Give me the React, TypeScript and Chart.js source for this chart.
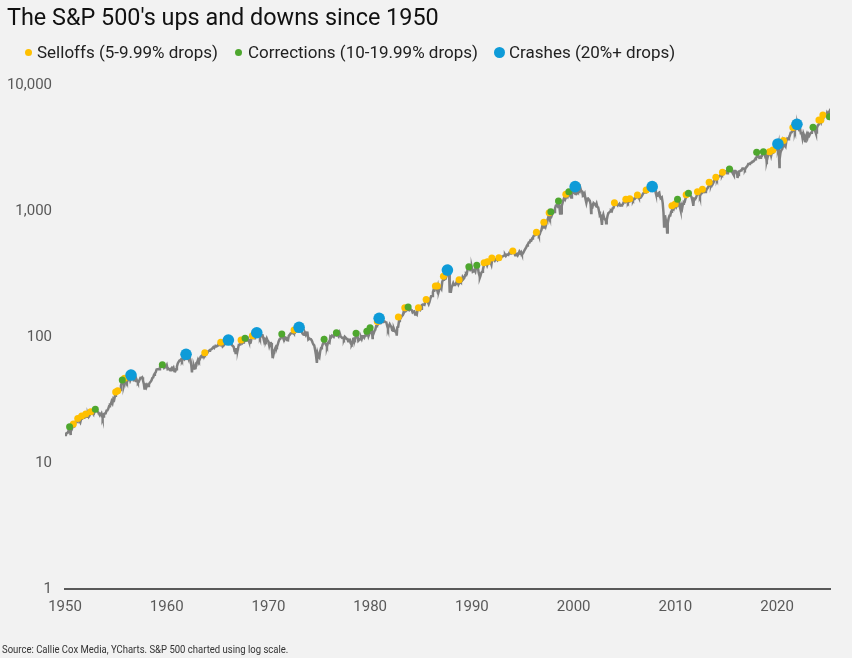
import React, { useEffect, useRef } from "react";
import { Chart, registerables } from "chart.js";

Chart.register(...registerables);

// ---------- DATA ----------
const START_YEAR = 1950;

// S&P 500 month-end levels, Jan 1950 onward (log scale)
const monthlyCloses: number[] = [
  // 1950
  17.05, 17.22, 17.29, 17.96, 18.78, 17.69, 17.84, 18.42, 19.45, 19.53, 19.51, 20.41,
  // 1951
  21.66, 21.8, 21.4, 22.43, 21.52, 20.96, 22.4, 23.28, 23.26, 22.94, 22.88, 23.77,
  // 1952
  24.14, 23.26, 24.37, 23.32, 23.86, 24.96, 25.4, 25.03, 24.54, 24.52, 25.66, 26.57,
  // 1953
  26.38, 25.9, 25.29, 24.62, 24.54, 24.14, 24.75, 23.32, 23.35, 24.54, 24.76, 24.81,
  // 1954
  26.08, 26.15, 26.94, 28.26, 29.19, 29.21, 30.88, 29.83, 32.31, 31.68, 34.24, 35.98,
  // 1955
  36.63, 36.76, 36.58, 37.96, 37.91, 41.03, 43.52, 43.18, 43.67, 42.34, 45.51, 45.48,
  // 1956
  43.82, 45.34, 48.48, 48.38, 45.2, 46.97, 49.39, 47.51, 45.35, 45.58, 45.08, 46.67,
  // 1957
  44.72, 43.26, 44.11, 45.74, 47.43, 47.37, 47.91, 45.22, 42.42, 41.06, 41.72, 39.99,
  // 1958
  41.7, 40.84, 42.1, 43.44, 44.09, 45.24, 47.19, 47.75, 50.06, 51.33, 52.48, 55.21,
  // 1959
  55.42, 55.41, 55.44, 57.59, 58.68, 58.47, 60.51, 59.6, 56.88, 57.52, 58.28, 59.89,
  // 1960
  55.61, 56.12, 55.34, 54.37, 55.83, 56.92, 55.51, 56.96, 53.52, 53.39, 55.54, 58.11,
  // 1961
  61.78, 63.44, 65.06, 65.31, 66.56, 64.64, 66.76, 68.07, 66.73, 68.62, 71.32, 71.55,
  // 1962
  68.84, 69.96, 69.55, 65.24, 59.63, 54.75, 58.23, 59.12, 56.27, 56.52, 62.26, 63.1,
  // 1963
  66.2, 64.29, 66.57, 69.8, 70.8, 69.37, 69.13, 72.5, 71.7, 74.01, 73.23, 75.02,
  // 1964
  77.04, 77.8, 78.98, 79.46, 80.37, 81.69, 83.18, 81.83, 84.18, 84.86, 84.42, 84.75,
  // 1965
  87.56, 87.43, 86.16, 89.11, 88.42, 84.12, 85.25, 87.17, 89.96, 92.42, 91.61, 92.43,
  // 1966
  92.88, 91.22, 89.23, 91.06, 86.13, 84.74, 83.6, 77.1, 76.56, 80.2, 80.45, 80.33,
  // 1967
  86.61, 86.78, 90.2, 94.01, 89.08, 90.64, 94.75, 93.64, 96.71, 93.9, 94.0, 96.47,
  // 1968
  92.24, 89.36, 90.2, 97.59, 98.68, 99.58, 97.74, 98.86, 102.67, 103.41, 108.37, 103.86,
  // 1969
  103.01, 98.13, 101.51, 103.69, 103.46, 97.71, 91.83, 95.51, 93.12, 97.24, 93.81, 92.06,
  // 1970
  85.02, 89.5, 89.63, 81.52, 76.55, 72.72, 78.05, 81.52, 84.21, 83.25, 87.2, 92.15,
  // 1971
  95.88, 96.75, 100.31, 103.95, 99.63, 99.7, 95.58, 99.03, 98.34, 94.23, 93.99, 102.09,
  // 1972
  103.94, 106.57, 107.2, 107.67, 109.53, 107.14, 107.39, 111.09, 110.55, 111.58, 116.67, 118.05,
  // 1973
  116.03, 111.68, 111.52, 106.97, 104.95, 104.26, 108.22, 104.25, 108.43, 108.29, 95.96, 97.55,
  // 1974
  96.57, 96.22, 93.98, 90.31, 87.28, 86.0, 79.31, 72.15, 63.54, 73.9, 69.97, 68.56,
  // 1975
  76.98, 81.59, 83.36, 87.3, 91.15, 95.19, 88.75, 86.88, 83.87, 89.04, 91.24, 90.19,
  // 1976
  100.86, 99.71, 102.77, 101.64, 100.18, 104.28, 103.44, 102.91, 105.24, 102.9, 102.1, 107.46,
  // 1977
  102.03, 99.82, 98.42, 98.44, 96.12, 100.48, 98.85, 96.77, 96.53, 92.34, 94.83, 95.1,
  // 1978
  89.25, 87.04, 89.21, 96.83, 97.24, 95.53, 100.68, 103.29, 102.54, 93.15, 94.7, 96.11,
  // 1979
  99.93, 96.28, 101.59, 101.76, 99.08, 102.91, 103.81, 109.32, 109.32, 101.82, 106.16, 107.94,
  // 1980
  114.16, 113.66, 102.09, 106.29, 111.24, 114.24, 121.67, 122.38, 125.46, 127.47, 140.52, 135.76,
  // 1981
  129.55, 131.27, 136.0, 132.81, 132.59, 131.21, 130.92, 122.79, 116.18, 121.89, 126.35, 122.55,
  // 1982
  120.4, 113.11, 111.96, 116.44, 111.88, 109.61, 107.09, 119.51, 120.42, 133.71, 138.54, 140.64,
  // 1983
  145.3, 148.06, 152.96, 164.42, 162.39, 168.11, 162.56, 164.4, 166.07, 163.55, 166.4, 164.93,
  // 1984
  163.41, 157.06, 159.18, 160.05, 150.55, 153.18, 150.66, 166.68, 166.1, 166.09, 163.58, 167.24,
  // 1985
  179.63, 181.18, 180.66, 179.83, 189.55, 191.85, 190.92, 188.63, 182.08, 189.82, 202.17, 211.28,
  // 1986
  211.78, 226.92, 238.9, 235.52, 247.35, 250.84, 236.12, 252.93, 231.32, 243.98, 249.22, 242.17,
  // 1987
  274.08, 284.2, 291.7, 288.36, 290.1, 304.0, 318.66, 329.8, 321.83, 251.79, 230.3, 247.08,
  // 1988
  257.07, 267.82, 258.89, 261.33, 262.16, 273.5, 272.02, 261.52, 271.91, 278.97, 273.7, 277.72,
  // 1989
  297.47, 288.86, 294.87, 309.64, 320.52, 317.98, 346.08, 351.45, 349.15, 340.36, 345.99, 353.4,
  // 1990
  329.08, 331.89, 339.94, 330.8, 361.23, 358.02, 356.15, 322.56, 306.05, 304.0, 322.22, 330.22,
  // 1991
  343.93, 367.07, 375.22, 375.35, 389.83, 371.16, 387.81, 395.43, 387.86, 392.46, 375.22, 417.09,
  // 1992
  408.79, 412.7, 403.69, 414.95, 415.35, 408.14, 424.21, 414.03, 417.8, 418.68, 431.35, 435.71,
  // 1993
  438.78, 443.38, 451.67, 440.19, 450.19, 450.53, 448.13, 463.56, 458.93, 467.83, 461.79, 466.45,
  // 1994
  481.61, 467.14, 445.77, 450.91, 456.5, 444.27, 458.26, 475.49, 462.69, 472.35, 453.69, 459.27,
  // 1995
  470.42, 487.39, 500.71, 514.71, 533.4, 544.75, 562.06, 561.88, 584.41, 581.5, 605.37, 615.93,
  // 1996
  636.02, 640.43, 645.5, 654.17, 669.12, 670.63, 639.95, 651.99, 687.33, 705.27, 757.02, 740.74,
  // 1997
  786.16, 790.82, 757.12, 801.34, 848.28, 885.14, 954.29, 899.47, 947.28, 914.62, 955.4, 970.43,
  // 1998
  980.28, 1049.34, 1101.75, 1111.75, 1090.82, 1133.84, 1120.67, 957.28, 1017.01, 1098.67, 1163.63, 1229.23,
  // 1999
  1279.64, 1238.33, 1286.37, 1335.18, 1301.84, 1372.71, 1328.72, 1320.41, 1282.71, 1362.93, 1388.91, 1469.25,
  // 2000
  1394.46, 1366.42, 1498.58, 1452.43, 1420.6, 1454.6, 1430.83, 1517.68, 1436.51, 1429.4, 1314.95, 1320.28,
  // 2001
  1366.01, 1239.94, 1160.33, 1249.46, 1255.82, 1224.42, 1211.23, 1133.58, 1040.94, 1059.78, 1139.45, 1148.08,
  // 2002
  1130.2, 1106.73, 1147.39, 1076.92, 1067.14, 989.82, 911.62, 916.07, 815.28, 885.76, 936.31, 879.82,
  // 2003
  855.7, 841.15, 848.18, 916.92, 963.59, 974.5, 990.31, 1008.01, 995.97, 1050.71, 1058.2, 1111.92,
  // 2004
  1131.13, 1144.94, 1126.21, 1107.3, 1120.68, 1140.84, 1101.72, 1104.24, 1114.58, 1130.2, 1173.82, 1211.92,
  // 2005
  1181.27, 1203.6, 1180.59, 1156.85, 1191.5, 1191.33, 1234.18, 1220.33, 1228.81, 1207.01, 1249.48, 1248.29,
  // 2006
  1280.08, 1280.66, 1294.83, 1310.61, 1270.09, 1270.2, 1276.66, 1303.82, 1335.85, 1377.94, 1400.63, 1418.3,
  // 2007
  1438.24, 1406.82, 1420.86, 1482.37, 1530.62, 1503.35, 1455.27, 1473.99, 1526.75, 1549.38, 1481.14, 1468.36,
  // 2008
  1378.55, 1330.63, 1322.7, 1385.59, 1400.38, 1280.0, 1267.38, 1282.83, 1166.36, 968.75, 896.24, 903.25,
  // 2009
  825.88, 735.09, 797.87, 872.81, 919.14, 919.32, 987.48, 1020.62, 1057.08, 1036.19, 1095.63, 1115.1,
  // 2010
  1073.87, 1104.49, 1169.43, 1186.69, 1089.41, 1030.71, 1101.6, 1049.33, 1141.2, 1183.26, 1180.55, 1257.64,
  // 2011
  1286.12, 1327.22, 1325.83, 1363.61, 1345.2, 1320.64, 1292.28, 1218.89, 1131.42, 1253.3, 1246.96, 1257.6,
  // 2012
  1312.41, 1365.68, 1408.47, 1397.91, 1310.33, 1362.16, 1379.32, 1406.58, 1440.67, 1412.16, 1416.18, 1426.19,
  // 2013
  1498.11, 1514.68, 1569.19, 1597.57, 1630.74, 1606.28, 1685.73, 1632.97, 1681.55, 1756.54, 1805.81, 1848.36,
  // 2014
  1782.59, 1859.45, 1872.34, 1883.95, 1923.57, 1960.23, 1930.67, 2003.37, 1972.29, 2018.05, 2067.56, 2058.9,
  // 2015
  1994.99, 2104.5, 2067.89, 2085.51, 2107.39, 2063.11, 2103.84, 1972.18, 1920.03, 2079.36, 2080.41, 2043.94,
  // 2016
  1940.24, 1932.23, 2059.74, 2065.3, 2096.95, 2098.86, 2173.6, 2170.95, 2168.27, 2126.15, 2198.81, 2238.83,
  // 2017
  2278.87, 2363.64, 2362.72, 2384.2, 2411.8, 2423.41, 2470.3, 2471.65, 2519.36, 2575.26, 2647.58, 2673.61,
  // 2018
  2823.81, 2713.83, 2640.87, 2648.05, 2705.27, 2718.37, 2816.29, 2901.52, 2913.98, 2711.74, 2760.17, 2506.85,
  // 2019
  2704.1, 2784.49, 2834.4, 2945.83, 2752.06, 2941.76, 2980.38, 2926.46, 2976.74, 3037.56, 3140.98, 3230.78,
  // 2020
  3225.52, 2954.22, 2584.59, 2912.43, 3044.31, 3100.29, 3271.12, 3500.31, 3363.0, 3269.96, 3621.63, 3756.07,
  // 2021
  3714.24, 3811.15, 3972.89, 4181.17, 4204.11, 4297.5, 4395.26, 4522.68, 4307.54, 4605.38, 4567.0, 4766.18,
  // 2022
  4515.55, 4373.94, 4530.41, 4131.93, 4132.15, 3785.38, 4130.29, 3955.0, 3585.62, 3871.98, 4080.11, 3839.5,
  // 2023
  4076.6, 3970.15, 4109.31, 4169.48, 4179.83, 4450.38, 4588.96, 4507.66, 4288.05, 4193.8, 4567.8, 4769.83,
  // 2024
  4845.65, 5096.27, 5254.35, 5035.69, 5277.51, 5460.48, 5522.3, 5648.4, 5762.48, 5705.45, 6032.38, 5881.63,
  // 2025
  6040.53, 5954.5,
];

// Intra-month highs and lows that show as spikes in the line: [year, level]
const intramonthLevels: [number, number][] = [
  [1950.0, 16.66], [1950.54, 16.68], [1953.7, 22.71], [1955.78, 40.8],
  [1957.81, 38.98], [1962.48, 52.32], [1966.78, 73.2], [1970.4, 69.29],
  [1974.76, 62.28], [1978.18, 86.9], [1980.23, 98.22], [1982.61, 102.42],
  [1987.65, 336.77], [1987.8, 224.84], [1987.92, 223.92], [1990.78, 295.46],
  [1998.77, 959.44], [2000.23, 1527.46], [2001.72, 965.8], [2002.78, 776.76],
  [2003.19, 800.73], [2007.78, 1565.15], [2008.89, 752.44], [2009.19, 676.53],
  [2010.51, 1022.58], [2011.76, 1099.23], [2016.11, 1829.08], [2018.98, 2351.1],
  [2020.14, 3386.15], [2020.23, 2237.4], [2022.01, 4796.56], [2022.78, 3577.03],
  [2023.82, 4117.37], [2025.13, 6144.15],
];

// Drawdown markers: [year, level]
const selloffs: [number, number][] = [
  [1950.82, 20.4], [1951.25, 22.6], [1951.64, 23.6], [1952.04, 24.5], [1952.53, 25.5],
  [1954.98, 36.6], [1955.18, 37.5], [1955.85, 47.0], [1963.74, 75.0], [1965.31, 90.8],
  [1967.31, 94.6], [1968.42, 102.4], [1972.52, 113.7], [1980.7, 133], [1982.77, 144],
  [1983.4, 171], [1984.74, 171], [1985.5, 198], [1986.41, 254], [1986.61, 254],
  [1987.2, 303], [1988.74, 285], [1991.2, 389], [1991.52, 396], [1991.96, 424],
  [1992.65, 426], [1994.02, 482], [1996.34, 677], [1997.07, 813], [1997.59, 970],
  [1999.23, 1358], [2004.01, 1164], [2005.13, 1239], [2005.52, 1253], [2006.27, 1340],
  [2007.13, 1469], [2009.66, 1102], [2009.98, 1137], [2011.06, 1347], [2012.17, 1422],
  [2012.66, 1486], [2013.32, 1690], [2013.98, 1850], [2014.63, 2028], [2019.25, 2955],
  [2019.58, 3050], [2020.63, 3630], [2021.55, 4600], [2024.11, 5275], [2024.3, 5275],
  [2024.5, 5781],
];

const corrections: [number, number][] = [
  [1950.45, 19.4], [1952.98, 26.7], [1955.63, 45.6], [1959.57, 60.3], [1967.7, 97.7],
  [1971.31, 105.6], [1975.47, 95.9], [1976.68, 108.1], [1978.61, 107], [1979.67, 111],
  [1979.99, 118.6], [1983.73, 173], [1989.7, 361], [1990.48, 371], [1997.76, 986],
  [1998.51, 1200], [1999.53, 1422], [2010.21, 1239], [2011.29, 1381], [2015.32, 2153],
  [2017.99, 2924], [2018.65, 2955], [2023.53, 4616], [2025.15, 5601],
];

const crashes: [number, number][] = [
  [1956.49, 49.9], [1961.9, 72.9], [1966.06, 94.6], [1968.85, 108.1], [1973.01, 119.4],
  [1980.88, 140.7], [1987.59, 340], [2000.15, 1560], [2007.72, 1560], [2020.08, 3404],
  [2021.95, 4876],
];

const yTickValues = [1, 10, 100, 1000, 10000];
const xTickValues = [1950, 1960, 1970, 1980, 1990, 2000, 2010, 2020];

const legendItems = [
  { label: "Selloffs (5-9.99% drops)", color: "#FFC000", size: 7, dotX: 28, textX: 37 },
  { label: "Corrections (10-19.99% drops)", color: "#4EA72E", size: 7, dotX: 238, textX: 248 },
  { label: "Crashes (20%+ drops)", color: "#0E9BD8", size: 11, dotX: 499, textX: 509 },
];

const toXY = (arr: [number, number][]) => arr.map(([x, y]) => ({ x, y }));

export default function App() {
  const canvasRef = useRef<HTMLCanvasElement | null>(null);

  useEffect(() => {
    const canvas = canvasRef.current;
    if (!canvas) return;

    const linePoints = [
      ...monthlyCloses.map((v, i) => ({ x: START_YEAR + (i + 1) / 12, y: v })),
      ...toXY(intramonthLevels),
    ].sort((a, b) => a.x - b.x);

    const tickFont = { family: "Roboto, 'Open Sans', sans-serif", size: 15 };

    const chart = new Chart(canvas, {
      type: "scatter",
      data: {
        datasets: [
          {
            label: "Crashes",
            data: toXY(crashes),
            backgroundColor: legendItems[2].color,
            borderWidth: 0,
            pointRadius: 5.8,
            order: 1,
          },
          {
            label: "Corrections",
            data: toXY(corrections),
            backgroundColor: legendItems[1].color,
            borderWidth: 0,
            pointRadius: 3.5,
            order: 2,
          },
          {
            label: "Selloffs",
            data: toXY(selloffs),
            backgroundColor: legendItems[0].color,
            borderWidth: 0,
            pointRadius: 3.5,
            order: 3,
          },
          {
            label: "S&P 500",
            data: linePoints,
            showLine: true,
            borderColor: "#808080",
            borderWidth: 2.5,
            pointRadius: 0,
            tension: 0,
            order: 10,
          } as any,
        ],
      },
      options: {
        animation: false,
        responsive: false,
        layout: { padding: { top: 85, right: 22, bottom: 29, left: 0 } },
        plugins: {
          legend: { display: false },
          tooltip: { enabled: false },
        },
        scales: {
          x: {
            type: "linear",
            min: 1950,
            max: 2025.2,
            grid: { display: false, drawTicks: false },
            border: { display: true, color: "#595959", width: 2 },
            ticks: {
              font: tickFont,
              color: "#595959",
              padding: 9,
              maxRotation: 0,
              callback: (v: any) => String(v),
            },
            afterBuildTicks: (scale: any) => {
              scale.ticks = xTickValues.map((v) => ({ value: v }));
            },
            afterFit: (scale: any) => {
              scale.height = 40;
            },
          },
          y: {
            type: "logarithmic",
            min: 1,
            max: 10000,
            grid: { display: false, drawTicks: false },
            border: { display: false },
            ticks: {
              font: tickFont,
              color: "#595959",
              padding: 13,
              callback: (v: any) => Number(v).toLocaleString("en-US"),
            },
            afterBuildTicks: (scale: any) => {
              scale.ticks = yTickValues.map((v) => ({ value: v }));
            },
            afterFit: (scale: any) => {
              scale.width = 65;
            },
          },
        },
      },
    });

    return () => chart.destroy();
  }, []);

  return (
    <div
      style={{
        position: "fixed",
        left: 0,
        top: 0,
        width: 852,
        height: 658,
        background: "#F2F2F2",
        overflow: "hidden",
        fontFamily: "Roboto, 'Open Sans', sans-serif",
      }}
    >
      <canvas
        ref={canvasRef}
        width={852}
        height={658}
        style={{ position: "absolute", left: 0, top: 0, width: 852, height: 658 }}
      />
      <div
        style={{
          position: "absolute",
          left: 7,
          top: 3,
          fontSize: 23.4,
          lineHeight: "28px",
          color: "#111",
          whiteSpace: "nowrap",
        }}
      >
        The S&amp;P 500's ups and downs since 1950
      </div>
      {legendItems.map((item) => (
        <React.Fragment key={item.label}>
          <div
            style={{
              position: "absolute",
              left: item.dotX - item.size / 2,
              top: 52 - item.size / 2,
              width: item.size,
              height: item.size,
              borderRadius: "50%",
              background: item.color,
            }}
          />
          <div
            style={{
              position: "absolute",
              left: item.textX,
              top: 41,
              fontSize: 17,
              lineHeight: "22px",
              color: "#222",
              whiteSpace: "nowrap",
            }}
          >
            {item.label}
          </div>
        </React.Fragment>
      ))}
      <div
        style={{
          position: "absolute",
          left: 2,
          top: 643,
          fontSize: 11,
          lineHeight: "14px",
          color: "#333",
          whiteSpace: "nowrap",
          transform: "scaleX(0.865)",
          transformOrigin: "left center",
        }}
      >
        Source: Callie Cox Media, YCharts. S&amp;P 500 charted using log scale.
      </div>
    </div>
  );
}
